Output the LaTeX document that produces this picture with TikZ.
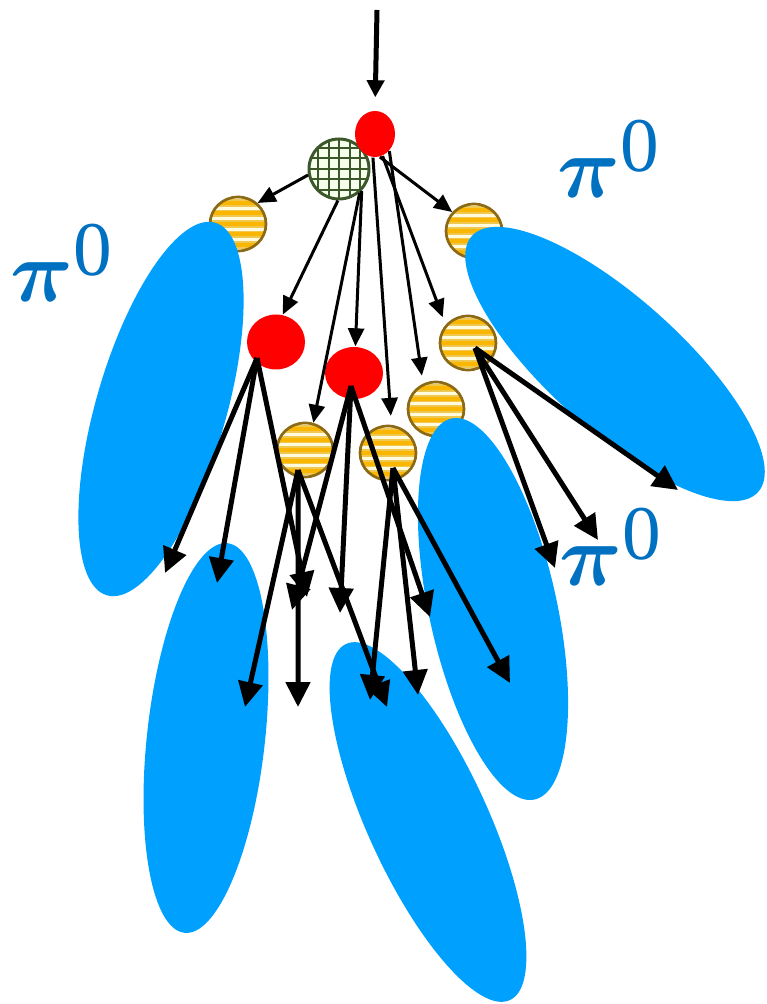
\documentclass[tikz,border=0pt]{standalone}
\usepackage{fontspec}
\setmainfont{Liberation Serif}
\usepackage{xcolor}
\usetikzlibrary{arrows.meta,shapes.geometric}

\definecolor{showerblue}{RGB}{0,160,255}
\definecolor{piblue}{RGB}{0,112,192}
\definecolor{ygold}{RGB}{140,105,20}
\definecolor{ylight}{RGB}{255,251,220}
\definecolor{ymid}{RGB}{238,200,80}
\definecolor{ydeep}{RGB}{250,182,0}
\definecolor{gdark}{RGB}{60,88,42}
\definecolor{glight}{RGB}{246,255,236}

\newcommand{\pizero}{{\boldmath$\pi$}\raisebox{2.6mm}{\fontsize{22}{22}\selectfont 0}}

\begin{document}
\begin{tikzpicture}[x=0.1mm, y=-0.1mm,
  redball/.style={ellipse, fill=red, inner sep=0pt},
  yball/.style={
    ellipse,
    draw=ygold,
    line width=0.27mm,
    fill=ylight,
    inner sep=0pt,
    minimum width=5.6mm,
    minimum height=5.4mm,
    path picture={
      \foreach \k in {-3,...,3}{
        \fill[ymid] ([yshift=\k*1.05mm-0.38mm]path picture bounding box.west) rectangle ([yshift=\k*1.05mm+0.38mm]path picture bounding box.east);
        \fill[ydeep] ([yshift=\k*1.05mm-0.2mm]path picture bounding box.west) rectangle ([yshift=\k*1.05mm+0.2mm]path picture bounding box.east);
      }
    }
  },
  gball/.style={
    circle,
    draw=gdark,
    line width=0.3mm,
    fill=glight,
    inner sep=0pt,
    minimum size=6mm,
    path picture={
      \foreach \k in {-3,...,3}{
        \draw[gdark, line width=0.2mm] ([xshift=\k*1.05mm]path picture bounding box.north) -- ([xshift=\k*1.05mm]path picture bounding box.south);
        \draw[gdark, line width=0.2mm] ([yshift=\k*1.05mm]path picture bounding box.west) -- ([yshift=\k*1.05mm]path picture bounding box.east);
      }
    }
  },
  shower/.style={fill=showerblue},
  feed/.style={-{Triangle[length=1.8mm,width=1.6mm]}, line width=0.3mm},
  gam/.style={-{Triangle[length=2.5mm,width=2.4mm]}, line width=0.5mm},
  beamarr/.style={-{Triangle[length=1.7mm,width=1.7mm]}, line width=0.5mm},
  pilabel/.style={text=piblue, inner sep=0pt, anchor=base west, font=\fontsize{27}{29}\selectfont}
]
  \useasboundingbox (0,0) rectangle (766,1004);

  \node[gball] (g) at (339,169) {};
  \node[redball, minimum width=4mm, minimum height=4.6mm] (r0) at (375,134) {};
  \node[yball] (y1) at (238,224) {};
  \node[yball] (y2) at (474,231) {};
  \node[yball] (y3) at (468,343) {};
  \node[yball] (y4) at (436,409) {};
  \node[yball] (y5) at (305,450) {};
  \node[yball] (y6) at (388,453) {};
  \node[redball, minimum width=5.8mm, minimum height=5.5mm] (r1) at (276,342) {};
  \node[redball, minimum width=5.8mm, minimum height=5.2mm] (r2) at (354,373) {};

  \fill[shower] (161,409) ellipse[x radius=19.4mm, y radius=6.5mm, rotate=73.8];
  \fill[shower] (615,364) ellipse[x radius=19.2mm, y radius=6.6mm, rotate=-41.8];
  \fill[shower] (206,738) ellipse[x radius=19.6mm, y radius=5.9mm, rotate=83.7];
  \fill[shower] (428,822) ellipse[x radius=19.6mm, y radius=6.0mm, rotate=114.7];
  \fill[shower] (493,609) ellipse[x radius=19.5mm, y radius=6.4mm, rotate=102.3];

  \coordinate (beam) at (377,10);
  \draw[beamarr, shorten >=1.3mm] (beam) -- (r0.north);

  \draw[feed] (g.191) -- (y1.47);
  \draw[feed] (r0.282) -- (y2.139);
  \draw[feed] (g.268) -- (r1.76);
  \draw[feed] (g.-49) -- (y5.73);
  \draw[feed] (g.-44) -- (r2.87);
  \draw[feed, shorten >=0.9mm] (r0.265) -- (y6.83);
  \draw[feed, shorten >=0.8mm] (r0.-50) -- (y4.117);
  \draw[feed, shorten >=0.8mm] (r0.-71) -- (y3.141);

  \coordinate (a1) at (165,573);
  \coordinate (a2) at (217,583);
  \coordinate (a3) at (307,597);
  \coordinate (b1) at (292,610);
  \coordinate (b2) at (340,613);
  \coordinate (b3) at (430,617);
  \coordinate (c1) at (678,490);
  \coordinate (c2) at (598,540);
  \coordinate (c3) at (555,568);
  \coordinate (d1) at (245,707);
  \coordinate (d2) at (298,707);
  \coordinate (d3) at (387,707);
  \coordinate (e1) at (370,700);
  \coordinate (e2) at (418,695);
  \coordinate (e3) at (510,683);

  \draw[gam] ([xshift=-1.9mm,yshift=-1.6mm]r1.center) -- (a1);
  \draw[gam] ([xshift=-1.9mm,yshift=-1.6mm]r1.center) -- (a2);
  \draw[gam] ([xshift=-1.9mm,yshift=-1.6mm]r1.center) -- (a3);
  \draw[gam] ([xshift=-0.3mm,yshift=-1.3mm]r2.center) -- (b1);
  \draw[gam] ([xshift=-0.3mm,yshift=-1.3mm]r2.center) -- (b2);
  \draw[gam] ([xshift=-0.3mm,yshift=-1.3mm]r2.center) -- (b3);
  \draw[gam] ([xshift=0.7mm,yshift=-0.5mm]y3.center) -- (c1);
  \draw[gam] ([xshift=0.7mm,yshift=-0.5mm]y3.center) -- (c2);
  \draw[gam] ([xshift=0.7mm,yshift=-0.5mm]y3.center) -- (c3);
  \draw[gam] ([xshift=-0.7mm,yshift=-2mm]y5.center) -- (d1);
  \draw[gam] ([xshift=-0.7mm,yshift=-2mm]y5.center) -- (d2);
  \draw[gam] ([xshift=-0.7mm,yshift=-2mm]y5.center) -- (d3);
  \draw[gam] ([xshift=0.5mm,yshift=-1.5mm]y6.center) -- (e1);
  \draw[gam] ([xshift=0.5mm,yshift=-1.5mm]y6.center) -- (e2);
  \draw[gam] ([xshift=0.5mm,yshift=-1.5mm]y6.center) -- (e3);

  \node[pilabel] (piL) at (10,302) {\pizero};
  \node[pilabel] (piT) at (557,198) {\pizero};
  \node[pilabel] (piB) at (559,585) {\pizero};
\end{tikzpicture}
\end{document}
